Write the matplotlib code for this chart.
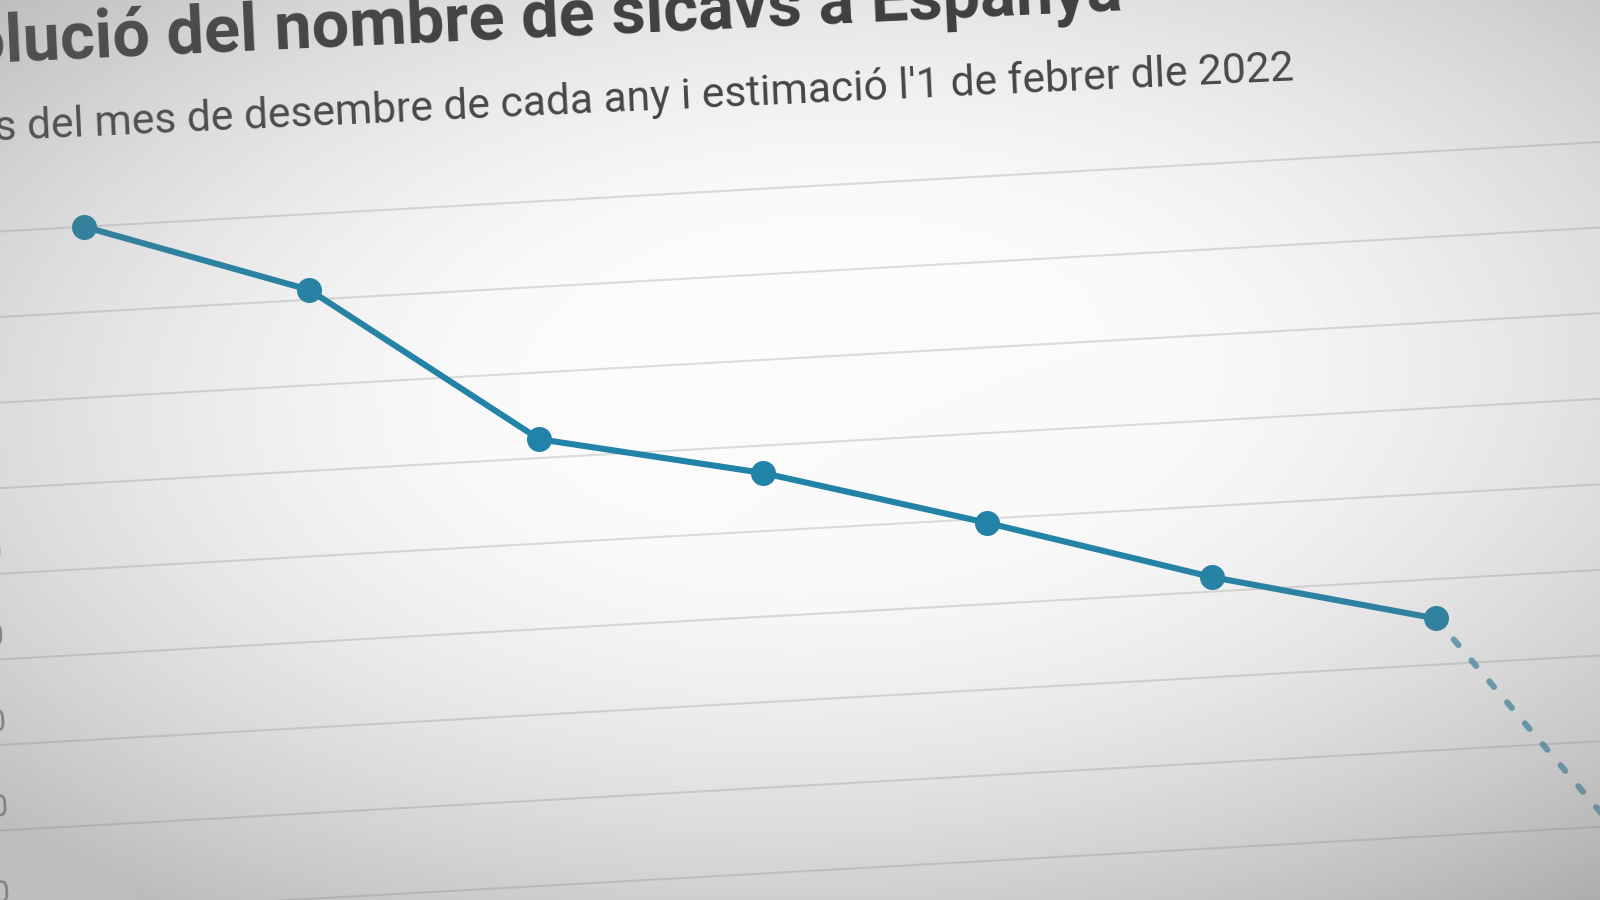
import numpy as np
import matplotlib
matplotlib.use('Agg')
import matplotlib.pyplot as plt
from matplotlib.transforms import Affine2D, IdentityTransform, blended_transform_factory, ScaledTranslation

# ── Dades: sicavs registrades (desembre de cada any) + estimació 1/2/2022 ──
anys = ['2015', '2016', '2017', '2018', '2019', '2020', '2021']
sicavs = [3400, 3223, 2844, 2736, 2590, 2434, 2308]
estimacio_data = '1/2/2022'
estimacio = 1624
ticks_y = [1600, 1800, 2000, 2200, 2400, 2600, 2800, 3000, 3200, 3400]

titol = 'Evolució del nombre de sicavs a Espanya'
subtitol = "Dades del mes de desembre de cada any i estimació l'1 de febrer dle 2022"

# ── Disseny (píxels, abans de girar) ──
W, H = 1600, 900
ANGLE = 3.2                 # inclinació de la graella
ANGLE_TXT = 2.65            # el text de dalt es veu una mica menys inclinat
PIVOT = (800, 450)
X0_PX, STEP_PX = 97.7, 221.3
YTOP_PX, PX_PER_UNIT = 712.9, 0.4273
BLUE = '#1f84a9'

fig = plt.figure(figsize=(16, 9), dpi=100)
fig.patch.set_facecolor('white')

ax = fig.add_axes([0, 0, 1, 1])
ax.set_xlim(-X0_PX / STEP_PX, (W - X0_PX) / STEP_PX)
ymin = ticks_y[-1] - YTOP_PX / PX_PER_UNIT
ax.set_ylim(ymin, ymin + H / PX_PER_UNIT)
ax.axis('off')

rot = Affine2D().rotate_deg_around(PIVOT[0], PIVOT[1], ANGLE)
rot_txt = Affine2D().rotate_deg_around(PIVOT[0], PIVOT[1], ANGLE_TXT)
tr = ax.transData + rot
tr_lab = (blended_transform_factory(IdentityTransform(), ax.transData)
          + ScaledTranslation(0, 0.14, fig.dpi_scale_trans) + rot)

# línies de la graella i etiquetes de l'eix Y (retallades a l'esquerra)
for v in ticks_y:
    ax.plot([-1.5, 9], [v, v], color='black', alpha=0.13, lw=1.5,
            transform=tr, clip_on=False, zorder=1)
    lab_x = 10 - 0.033 * (ticks_y[-1] - v) * PX_PER_UNIT
    ax.text(lab_x, v, f'{v:,}'.replace(',', '.'), transform=tr_lab,
            ha='right', va='baseline', rotation=ANGLE, rotation_mode='anchor',
            fontsize=22, family='Roboto', color='#8a8a8a', clip_on=False)

# sèrie principal
x = np.arange(len(anys))
ax.plot(x, sicavs, color=BLUE, lw=4.4, marker='o', ms=17,
        solid_capstyle='round', solid_joinstyle='round',
        transform=tr, clip_on=False, zorder=3)
# estimació (traç discontinu)
ax.plot([x[-1], x[-1] + 1], [sicavs[-1], estimacio], color=BLUE, lw=4.4,
        ls=(0, (1.2, 3.3)), dash_capstyle='round', alpha=0.7,
        transform=tr, clip_on=False, zorder=2)
ax.plot([x[-1] + 1], [estimacio], 'o', color=BLUE, ms=17, alpha=0.7,
        transform=tr, clip_on=False, zorder=3)

# títol i subtítol
ax.text(-84, 874.6, titol, transform=rot_txt, ha='left', va='baseline',
        rotation=ANGLE_TXT, rotation_mode='anchor', fontsize=48,
        fontweight='bold', family='Roboto', color='#333333')
ax.text(-87, 796.6, subtitol, transform=rot_txt, ha='left', va='baseline',
        rotation=ANGLE_TXT, rotation_mode='anchor', fontsize=30.7,
        family='Roboto', color='#404040')

# vinyeta de la captura
yy, xx = np.mgrid[0:H, 0:W]
r = np.sqrt(((xx - 870) / 1000) ** 2 + ((yy - 410) / 540) ** 2)
alpha = 0.48 * np.clip((r - 0.25) / 0.9, 0, 1) ** 1.6 + 0.12 * (xx / W) * (yy / H)
rgba = np.zeros((H, W, 4))
rgba[..., :3] = 120 / 255
rgba[..., 3] = np.clip(alpha, 0, 1)

ov = fig.add_axes([0, 0, 1, 1], zorder=5)
ov.imshow(rgba, extent=(0, 1, 0, 1), aspect='auto', origin='upper')
ov.axis('off')
ov.patch.set_visible(False)

fig.savefig('out.png', dpi=100)
